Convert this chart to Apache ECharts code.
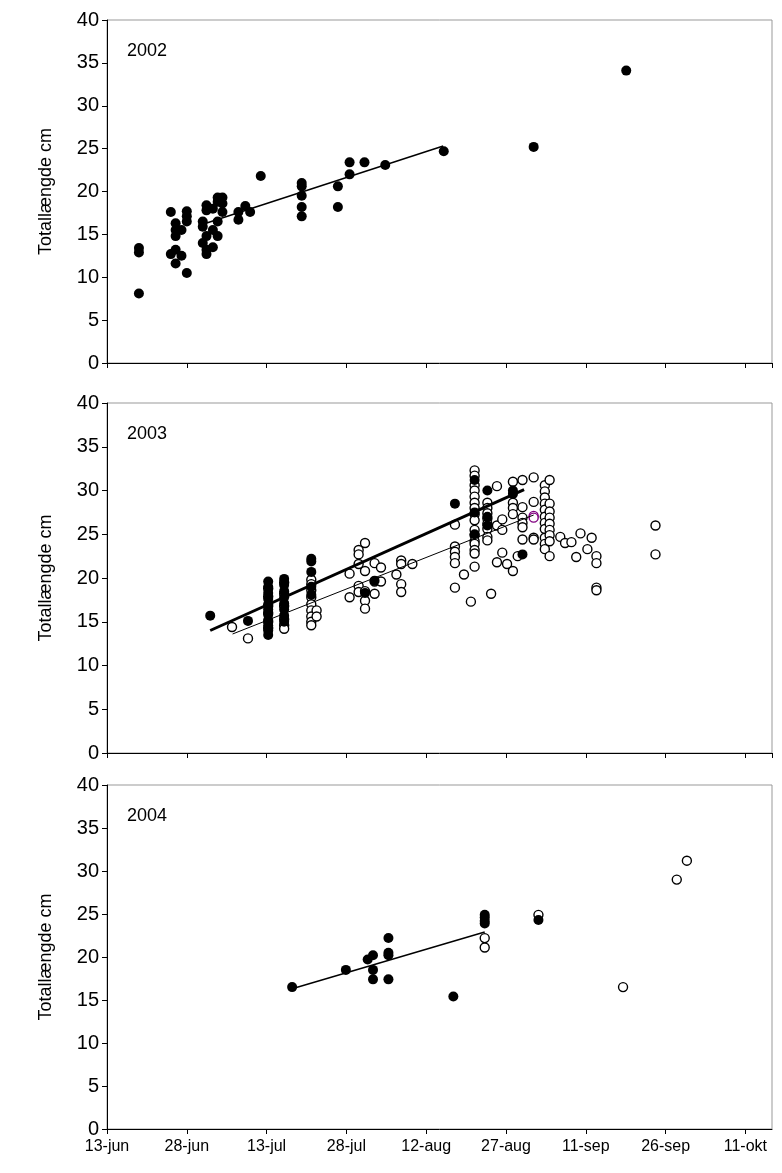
<!DOCTYPE html>
<html>
<head>
<meta charset="utf-8">
<script src="https://cdn.jsdelivr.net/npm/echarts@6/dist/echarts.min.js"></script>
<style>
  html, body { margin: 0; padding: 0; background: #fff; }
  #chart { width: 782px; height: 1173px; }
</style>
</head>
<body>
<div id="chart"></div>
<script>
// x = days after 13-jun, y = total length (cm)
var xTickLabels = ['13-jun', '28-jun', '13-jul', '28-jul', '12-aug', '27-aug', '11-sep', '26-sep', '11-okt'];
var yearLabels = ['2002', '2003', '2004'];

// 2002
var filled2002 = [
  [6.0, 13.4], [6.0, 12.9], [6.0, 8.1],
  [12.0, 17.6], [12.0, 12.7],
  [12.9, 16.3], [12.9, 15.5], [12.9, 14.8], [12.9, 13.2], [12.9, 11.6],
  [14.0, 15.5], [14.0, 12.5],
  [15.0, 17.7], [15.0, 17.1], [15.0, 16.5], [15.0, 10.5],
  [18.0, 16.5], [18.0, 15.9], [18.0, 14.0],
  [18.7, 18.4], [18.7, 17.8], [18.7, 14.8], [18.7, 13.2], [18.7, 12.7],
  [19.9, 18.0], [19.9, 15.5], [19.9, 13.5],
  [20.8, 19.3], [20.8, 18.8], [20.8, 16.5], [20.8, 14.8],
  [21.7, 19.3], [21.7, 18.6], [21.7, 17.6],
  [24.7, 17.6], [24.7, 16.7], [26.0, 18.3], [26.9, 17.6], [28.9, 21.8],
  [36.6, 21.0], [36.6, 20.6], [36.6, 19.5], [36.6, 18.2], [36.6, 17.1],
  [43.4, 20.6], [43.4, 18.2], [45.6, 23.4], [45.6, 22.0], [48.4, 23.4], [52.3, 23.1],
  [63.3, 24.7], [80.2, 25.2], [97.6, 34.1]
];
var trend2002 = [[18.6, 16.3], [63.2, 25.3]];

// 2003
var filled2003 = [
  [19.4, 15.7], [26.5, 15.1],
  [30.3, 19.6], [30.3, 19.0], [30.3, 18.3], [30.3, 17.6], [30.3, 17.0], [30.3, 16.4], [30.3, 15.8], [30.3, 15.2], [30.3, 14.6], [30.3, 14.0], [30.3, 13.5],
  [33.3, 19.9], [33.3, 19.2], [33.3, 18.5], [33.3, 17.8], [33.3, 17.1], [33.3, 16.4], [33.3, 15.7], [33.3, 15.0],
  [38.4, 22.2], [38.4, 21.9], [38.4, 20.7], [38.4, 19.0], [38.4, 18.1],
  [48.5, 18.3], [50.3, 19.7], [65.4, 28.5],
  [69.1, 31.2], [69.1, 27.5], [69.1, 25.0],
  [71.5, 30.0], [71.5, 27.0], [71.5, 26.0],
  [76.3, 30.0], [76.3, 29.6], [78.1, 22.7]
];
var open2003 = [
  [23.5, 14.4], [26.5, 13.1],
  [30.3, 18.8], [30.3, 17.9], [30.3, 16.8], [30.3, 16.0], [30.3, 15.0], [30.3, 14.3],
  [33.3, 19.5], [33.3, 18.2], [33.3, 16.8], [33.3, 15.3], [33.3, 14.6], [33.3, 14.2],
  [38.4, 19.8], [38.4, 19.3], [38.4, 18.6], [38.4, 17.8], [38.4, 17.0], [38.4, 16.3], [38.4, 15.6], [38.4, 15.0], [38.4, 14.6],
  [39.4, 16.3], [39.4, 15.6],
  [45.6, 20.5], [45.6, 17.8], [47.3, 23.2], [47.3, 22.7], [47.3, 21.6], [47.3, 19.1], [47.3, 18.4],
  [48.5, 24.0], [48.5, 20.8], [48.5, 18.5], [48.5, 17.4], [48.5, 16.5],
  [50.3, 21.7], [50.3, 19.6], [50.3, 18.2], [51.5, 21.2], [51.5, 19.6],
  [54.4, 20.4], [55.3, 22.0], [55.3, 21.6], [55.3, 19.3], [55.3, 18.4], [57.4, 21.6],
  [65.4, 26.1], [65.4, 23.6], [65.4, 23.0], [65.4, 22.4], [65.4, 21.7], [65.4, 18.9],
  [67.1, 20.4], [68.4, 17.3],
  [69.1, 32.3], [69.1, 31.7], [69.1, 30.6], [69.1, 30.0], [69.1, 29.3], [69.1, 28.6], [69.1, 28.0], [69.1, 27.3],
  [69.1, 26.6], [69.1, 25.5], [69.1, 24.9], [69.1, 24.2], [69.1, 23.9], [69.1, 23.2], [69.1, 22.8], [69.1, 21.3],
  [71.5, 28.6], [71.5, 28.0], [71.5, 27.4], [71.5, 26.8], [71.5, 26.2], [71.5, 25.6], [71.5, 24.7], [71.5, 24.3],
  [72.2, 18.2], [73.3, 30.5], [73.3, 26.0], [73.3, 21.8], [74.3, 26.7], [74.3, 25.5], [74.3, 22.9],
  [75.2, 21.6], [76.3, 20.8], [77.2, 22.5],
  [76.3, 31.0], [76.3, 28.6], [76.3, 28.0], [76.3, 27.3],
  [78.1, 31.2], [78.1, 28.1], [78.1, 26.9], [78.1, 26.3], [78.1, 25.8], [78.1, 24.4],
  [80.2, 31.5], [80.2, 28.7], [80.2, 24.6], [80.2, 24.4],
  [82.3, 30.6], [82.3, 29.9], [82.3, 29.2], [82.3, 28.5], [82.3, 27.8], [82.3, 27.0], [82.3, 26.3], [82.3, 25.6], [82.3, 24.6], [82.3, 23.9], [82.3, 23.3],
  [83.2, 31.2], [83.2, 28.5], [83.2, 27.6], [83.2, 26.9], [83.2, 26.2], [83.2, 25.5], [83.2, 24.9], [83.2, 24.2], [83.2, 22.5],
  [85.2, 24.7], [86.1, 24.0], [87.3, 24.1], [88.2, 22.4], [89.0, 25.1], [90.3, 23.3], [91.1, 24.6],
  [92.0, 22.5], [92.0, 21.7], [92.0, 18.9], [92.0, 18.6],
  [103.1, 26.0], [103.1, 22.7]
];
var purple2003 = [[80.2, 27.1], [80.2, 26.9]];
var trendAll2003 = [[19.4, 14.0], [78.4, 30.1]];
var trendOpen2003 = [[23.6, 13.6], [80.2, 27.2]];

// 2004
var filled2004 = [
  [34.8, 16.5], [44.9, 18.5], [49.0, 19.7], [50.0, 20.2], [50.0, 18.5], [50.0, 17.4],
  [52.9, 22.2], [52.9, 20.5], [52.9, 20.2], [52.9, 17.4], [65.1, 15.4],
  [71.0, 24.9], [71.0, 24.6], [71.0, 24.2], [71.0, 23.9], [81.1, 24.3]
];
var open2004 = [[71.0, 22.2], [71.0, 21.1], [81.1, 24.9], [97.0, 16.5], [107.1, 29.0], [109.0, 31.2]];
var trend2004 = [[34.8, 16.3], [71.0, 22.9]];

var grids = [
  {left: 107, right: 10, top: 20, height: 343},
  {left: 107, right: 10, top: 403, height: 350},
  {left: 107, right: 10, top: 785, height: 344}
];
var font = 'Liberation Sans, Arial, sans-serif';

function xAxis(i) {
  return {
    gridIndex: i, type: 'value', min: 0, max: 125, interval: 15,
    axisLine: {lineStyle: {color: '#000', width: 1}},
    axisTick: {length: 5, lineStyle: {color: '#000'}},
    splitLine: {show: false},
    axisLabel: {
      show: i === 2, color: '#000', fontSize: 16, fontFamily: font, margin: 10,
      showMaxLabel: false,
      formatter: function (v) { return xTickLabels[Math.round(v / 15)] || ''; }
    }
  };
}
function yAxis(i) {
  return {
    gridIndex: i, type: 'value', min: 0, max: 40, interval: 5,
    name: 'Totallængde cm', nameLocation: 'middle', nameGap: 52,
    nameTextStyle: {fontSize: 18, fontFamily: font, color: '#000'},
    axisLine: {show: true, lineStyle: {color: '#000', width: 1}},
    axisTick: {show: true, length: 5, lineStyle: {color: '#000'}},
    splitLine: {show: false},
    axisLabel: {color: '#000', fontSize: 20, fontFamily: font, margin: 8}
  };
}
function filled(i, data) {
  return {type: 'scatter', xAxisIndex: i, yAxisIndex: i, data: data, symbolSize: 10,
    itemStyle: {color: '#000', opacity: 1}, z: 3};
}
function open(i, data, col) {
  return {type: 'scatter', xAxisIndex: i, yAxisIndex: i, data: data, symbolSize: 9,
    itemStyle: {color: '#fff', borderColor: col || '#000', borderWidth: 1.4, opacity: 1}, z: 2};
}
function trend(i, data, w) {
  return {type: 'line', xAxisIndex: i, yAxisIndex: i, data: data, symbol: 'none',
    lineStyle: {color: '#000', width: w}, z: 4};
}

var option = {
  animation: false,
  backgroundColor: '#fff',
  grid: grids.map(function (g) {
    return Object.assign({show: true, borderColor: '#999', borderWidth: 1}, g);
  }),
  xAxis: [xAxis(0), xAxis(1), xAxis(2)],
  yAxis: [yAxis(0), yAxis(1), yAxis(2)],
  graphic: yearLabels.map(function (t, i) {
    return {type: 'text', left: 127, top: grids[i].top + 22,
      style: {text: t, fontSize: 18, fontFamily: font, fill: '#000'}};
  }),
  series: [
    filled(0, filled2002), trend(0, trend2002, 1.5),
    open(1, open2003), open(1, purple2003, '#800080'), filled(1, filled2003),
    trend(1, trendAll2003, 3), trend(1, trendOpen2003, 1),
    open(2, open2004), filled(2, filled2004), trend(2, trend2004, 1.5)
  ]
};
echarts.init(document.getElementById('chart')).setOption(option);
</script>
</body>
</html>
